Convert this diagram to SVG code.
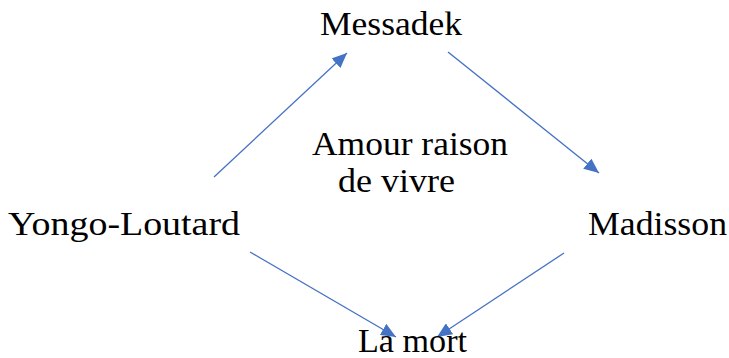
<svg xmlns="http://www.w3.org/2000/svg" width="729" height="358" viewBox="0 0 729 358">
<style>
text{font-family:"Liberation Serif","DejaVu Serif",serif;font-size:33px;fill:#000}
.c{stroke:#4472C4;stroke-width:1.3;fill:none}
</style>
<defs>
<marker id="ah" markerWidth="15" markerHeight="13" refX="15" refY="6.5" orient="auto" markerUnits="userSpaceOnUse">
<path d="M0,0 L15,6.5 L0,13 Z" fill="#4472C4"/>
</marker>
</defs>
<rect width="729" height="358" fill="#fff"/>
<g id="connectors">
<line class="c" x1="214" y1="177" x2="347" y2="53" marker-end="url(#ah)"/>
<line class="c" x1="448" y1="52" x2="599" y2="173" marker-end="url(#ah)"/>
<line class="c" x1="250" y1="252" x2="396" y2="337" marker-end="url(#ah)"/>
<line class="c" x1="564" y1="253" x2="437" y2="337" marker-end="url(#ah)"/>
</g>
<g id="messadek"><text x="320" y="35" textLength="142" lengthAdjust="spacingAndGlyphs">Messadek</text></g>
<g id="center"><text x="312" y="155" textLength="196" lengthAdjust="spacingAndGlyphs">Amour raison</text><text x="338" y="192" textLength="117" lengthAdjust="spacingAndGlyphs">de vivre</text></g>
<g id="yongo"><text x="8" y="235" textLength="232" lengthAdjust="spacingAndGlyphs">Yongo-Loutard</text></g>
<g id="madisson"><text x="588" y="235" textLength="139" lengthAdjust="spacingAndGlyphs">Madisson</text></g>
<g id="lamort"><text x="358" y="352" textLength="109" lengthAdjust="spacingAndGlyphs">La mort</text></g>
</svg>
